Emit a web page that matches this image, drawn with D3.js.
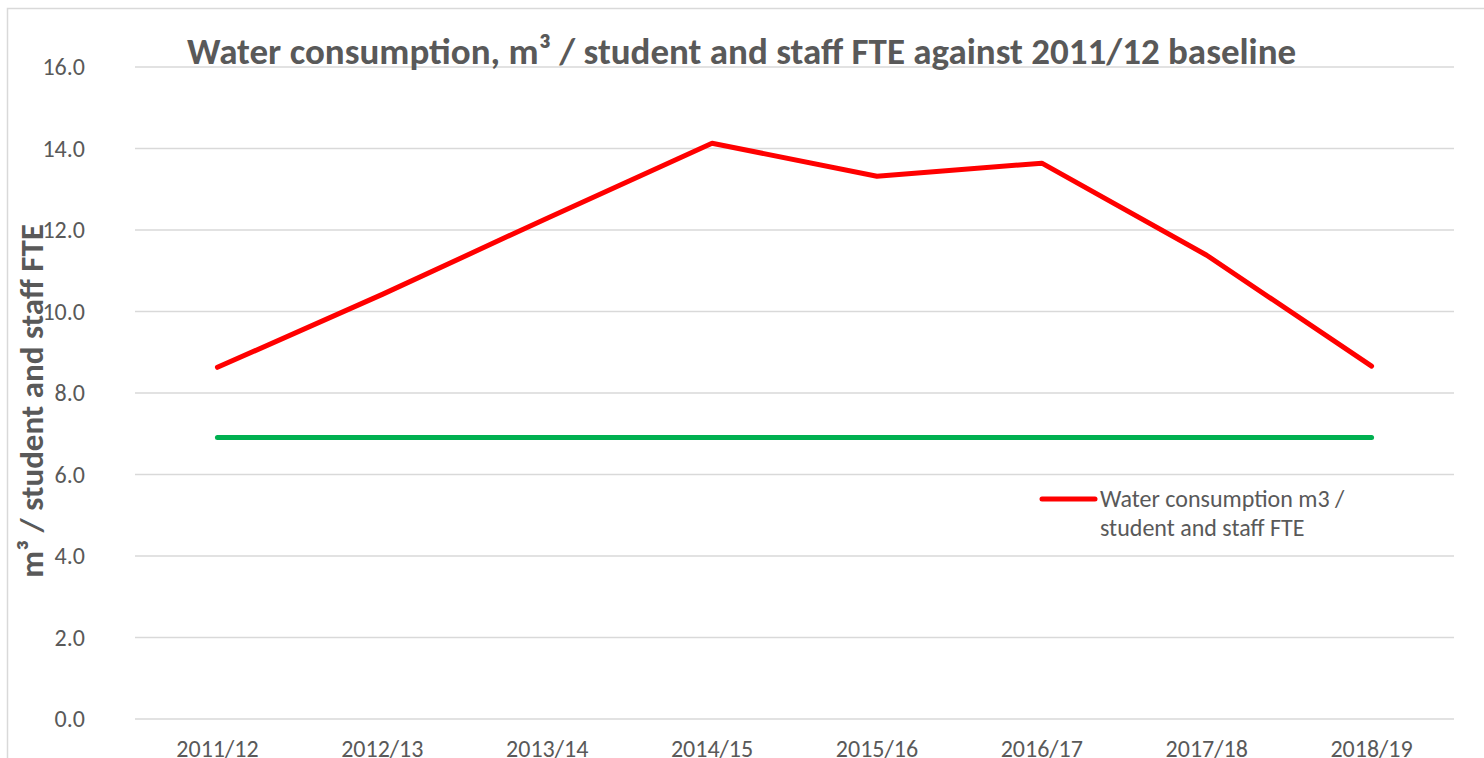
<!DOCTYPE html>
<html>
<head>
<meta charset="utf-8">
<script src="https://cdn.jsdelivr.net/npm/d3@7"></script>
<style>
  body { margin: 0; background: #fff; }
  text { font-family: Carlito, Lato, sans-serif; fill: #595959; }
</style>
</head>
<body>
<div id="chart"></div>
<script>
var years = ["2011/12", "2012/13", "2013/14", "2014/15", "2015/16", "2016/17", "2017/18", "2018/19"];
var consumption = [8.63, 10.42, 12.29, 14.13, 13.32, 13.64, 11.38, 8.66];
var baseline = [6.91, 6.91, 6.91, 6.91, 6.91, 6.91, 6.91, 6.91];
var yTicks = [0, 2, 4, 6, 8, 10, 12, 14, 16];

var width = 1484, height = 758;
var plotLeft = 135, plotRight = 1454, plotTop = 67, plotBottom = 719;
var fontFam = "Carlito, Lato, sans-serif";

var svg = d3.select("#chart").append("svg")
    .attr("width", width)
    .attr("height", height);

// outer chart border
svg.append("rect")
    .attr("x", 7.5).attr("y", 8.5)
    .attr("width", width).attr("height", height)
    .attr("fill", "none")
    .attr("stroke", "#d9d9d9")
    .attr("stroke-width", 1.5);

var x = d3.scaleBand().domain(years).range([plotLeft, plotRight]);
var y = d3.scaleLinear().domain([0, 16]).range([plotBottom, plotTop]);

// gridlines
svg.append("g")
    .selectAll("line")
    .data(yTicks)
    .enter().append("line")
    .attr("x1", plotLeft).attr("x2", plotRight)
    .attr("y1", function(d) { return y(d); })
    .attr("y2", function(d) { return y(d); })
    .attr("stroke", "#d9d9d9")
    .attr("stroke-width", 1.5);

// y axis labels
var yAxis = d3.axisLeft(y).tickValues(yTicks).tickFormat(d3.format(".1f")).tickSize(0).tickPadding(0);
var yg = svg.append("g").attr("transform", "translate(85,0)").call(yAxis);
yg.select(".domain").remove();
yg.selectAll("text").attr("font-size", 24).style("font-family", fontFam).attr("fill", "#595959");

// x axis labels
var xAxis = d3.axisBottom(x).tickSize(0).tickPadding(0);
var xg = svg.append("g").attr("transform", "translate(0,740)").call(xAxis);
xg.select(".domain").remove();
xg.selectAll("text").attr("font-size", 24).attr("dy", "0.71em").style("font-family", fontFam).attr("fill", "#595959");

var line = d3.line()
    .x(function(d, i) { return x(years[i]) + x.bandwidth() / 2; })
    .y(function(d) { return y(d); });

svg.append("path")
    .datum(baseline)
    .attr("d", line)
    .attr("fill", "none")
    .attr("stroke", "#00b050")
    .attr("stroke-width", 5)
    .attr("stroke-linecap", "round");

svg.append("path")
    .datum(consumption)
    .attr("d", line)
    .attr("fill", "none")
    .attr("stroke", "#ff0000")
    .attr("stroke-width", 5)
    .attr("stroke-linecap", "round")
    .attr("stroke-linejoin", "round");

// title
svg.append("text")
    .attr("x", 187).attr("y", 64)
    .attr("font-size", 37)
    .attr("font-weight", "bold")
    .text("Water consumption, m\u00b3 / student and staff FTE against 2011/12 baseline");

// y axis title
svg.append("text")
    .attr("transform", "translate(43,401) rotate(-90)")
    .attr("text-anchor", "middle")
    .attr("font-size", 33)
    .attr("font-weight", "bold")
    .text("m\u00b3 / student and staff FTE");

// legend
var legend = svg.append("g");
legend.append("line")
    .attr("x1", 1042).attr("x2", 1095)
    .attr("y1", 499).attr("y2", 499)
    .attr("stroke", "#ff0000")
    .attr("stroke-width", 5)
    .attr("stroke-linecap", "round");
legend.append("text")
    .attr("x", 1100).attr("y", 507)
    .attr("font-size", 24)
    .text("Water consumption m3 /");
legend.append("text")
    .attr("x", 1100).attr("y", 536)
    .attr("font-size", 24)
    .text("student and staff FTE");
</script>
</body>
</html>
